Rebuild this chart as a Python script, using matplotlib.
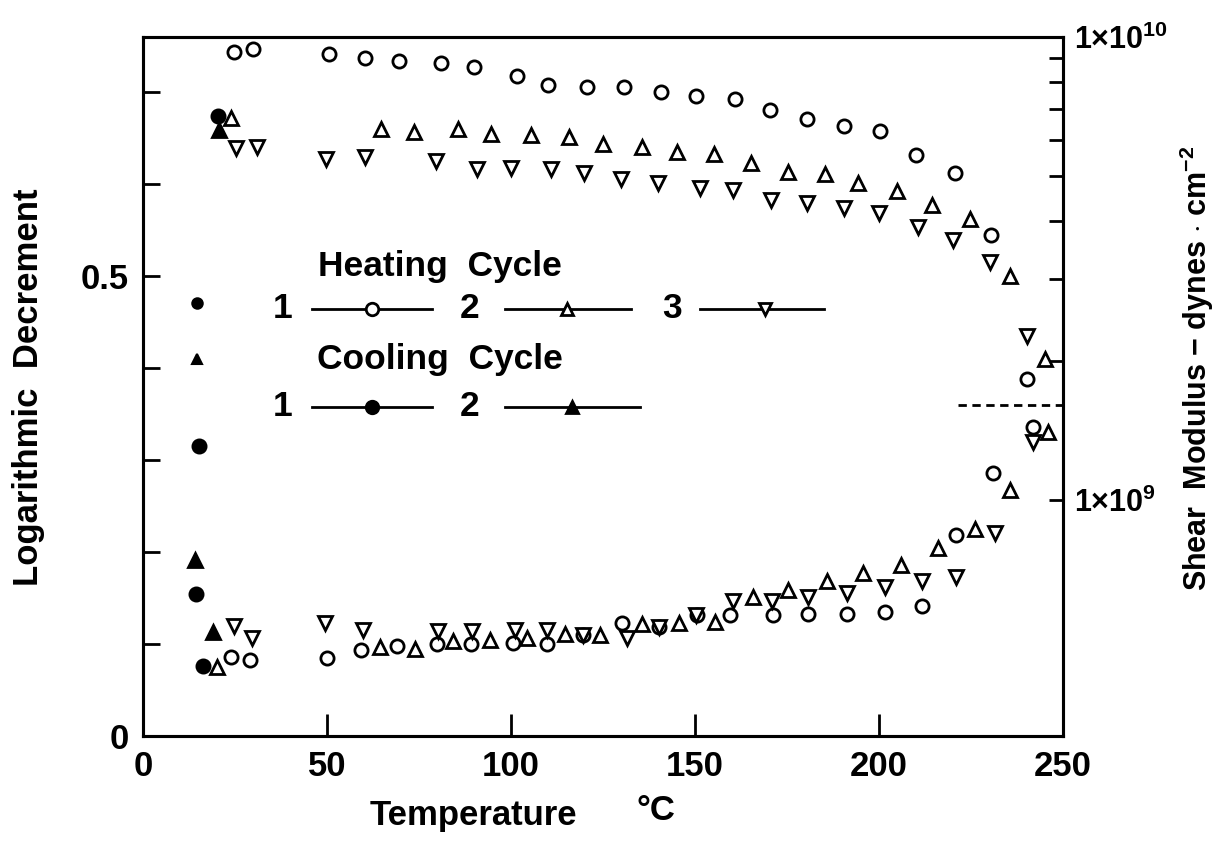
import matplotlib
matplotlib.use('Agg')
import matplotlib.pyplot as plt
from matplotlib.ticker import FixedLocator, NullFormatter

plt.rcParams['font.family'] = ['Liberation Sans', 'DejaVu Sans']
plt.rcParams['font.weight'] = 'bold'
plt.rcParams['axes.labelweight'] = 'bold'
plt.rcParams['mathtext.fontset'] = 'custom'
plt.rcParams['mathtext.rm'] = 'Liberation Sans:bold'
plt.rcParams['mathtext.it'] = 'Liberation Sans:bold'

# shear modulus (1e9 dynes/cm2), heating cycles
t_mod_h1 = [24.7, 30, 50.5, 60.3, 69.6, 81, 90, 101.6, 110, 120.7, 130.7, 140.8, 150.3,
            160.9, 170.4, 180.4, 190.5, 200.3, 210, 220.7, 230.4, 240.2]
mod_h1 = [9.27, 9.40, 9.19, 9.01, 8.89, 8.77, 8.60, 8.24, 7.88, 7.81, 7.81, 7.62, 7.46,
          7.34, 6.96, 6.64, 6.42, 6.27, 5.56, 5.09, 3.74, 1.83]
t_mod_h2 = [23.8, 64.7, 73.6, 85.6, 94.6, 105.4, 115.8, 125, 135.6, 145, 155.2, 165.2,
            175.3, 185.3, 194.3, 204.9, 214.4, 224.7, 235.6, 245.1]
mod_h2 = [6.68, 6.33, 6.24, 6.32, 6.16, 6.14, 6.07, 5.87, 5.78, 5.65, 5.59, 5.35,
          5.12, 5.06, 4.85, 4.66, 4.34, 4.04, 3.04, 2.02]
t_mod_h3 = [25.3, 31, 49.7, 60.3, 79.6, 90.8, 100, 111, 119.8, 129.9, 139.9, 151.4,
            160.3, 170.6, 180.4, 190.5, 200, 210.6, 220.1, 230.2, 240.2]
mod_h3 = [5.75, 5.79, 5.44, 5.51, 5.40, 5.19, 5.20, 5.19, 5.09, 4.93, 4.83, 4.73,
          4.67, 4.45, 4.39, 4.27, 4.16, 3.89, 3.64, 3.27, 2.26]
# shear modulus, cooling cycles
t_mod_c1 = [20.5]
mod_c1 = [6.76]
t_mod_c2 = [20.7]
mod_c2 = [6.30]

# logarithmic decrement, heating cycles
t_dec_h1 = [24, 29.2, 49.9, 59.2, 69, 79.9, 89.1, 100.5, 109.8, 119.6, 130.2, 140.2,
            150.5, 159.5, 171.2, 180.7, 191.3, 201.6, 211.7, 220.9, 231, 241.8]
dec_h1 = [0.086, 0.083, 0.085, 0.094, 0.098, 0.100, 0.100, 0.101, 0.100, 0.110, 0.123, 0.118,
          0.132, 0.132, 0.132, 0.133, 0.133, 0.135, 0.141, 0.219, 0.286, 0.336]
t_dec_h2 = [20.2, 64.4, 73.9, 84.2, 94.3, 104.3, 114.7, 124.2, 135.5, 145.7, 155.4, 165.7,
            175.2, 186, 195.7, 206.1, 216, 226, 235.6, 246]
dec_h2 = [0.075, 0.097, 0.095, 0.103, 0.104, 0.107, 0.111, 0.110, 0.122, 0.123, 0.124, 0.151,
          0.159, 0.168, 0.177, 0.186, 0.204, 0.225, 0.267, 0.330]
t_dec_h3 = [24.8, 29.5, 49.5, 59.9, 80.2, 89.3, 101, 109.7, 119.5, 131.4, 140.3, 150.4,
            160.2, 171, 180.8, 191.2, 201.6, 211.6, 221, 231.5, 241.8]
dec_h3 = [0.120, 0.107, 0.123, 0.115, 0.114, 0.114, 0.115, 0.115, 0.110, 0.107, 0.118, 0.132,
          0.147, 0.147, 0.151, 0.155, 0.162, 0.168, 0.173, 0.221, 0.320]
# logarithmic decrement, cooling cycles (first point of each is faintly printed)
t_dec_c1 = [14.6, 15.2, 14.4, 16.2]
dec_c1 = [0.471, 0.315, 0.154, 0.076]
t_dec_c2 = [14.6, 14.1, 18.9]
dec_c2 = [0.410, 0.191, 0.113]

tg_level = 0.36
tg_range = (221.5, 250)

fig = plt.figure(figsize=(12.22, 8.5), dpi=100)
ax = fig.add_axes([143 / 1222, 114 / 850, 920 / 1222, 699 / 850])
ax2 = ax.twinx()

mk = dict(linestyle='none', markersize=9.5, markeredgewidth=2.0, color='black')
ax2.plot(t_mod_h1, [v * 1e9 for v in mod_h1], marker='o', markerfacecolor='white', **mk)
ax2.plot(t_mod_h2, [v * 1e9 for v in mod_h2], marker='^', markerfacecolor='white', **mk)
ax2.plot(t_mod_h3, [v * 1e9 for v in mod_h3], marker='v', markerfacecolor='white', **mk)
ax2.plot(t_mod_c1, [v * 1e9 for v in mod_c1], marker='o', markerfacecolor='black', **mk)
ax2.plot(t_mod_c2, [v * 1e9 for v in mod_c2], marker='^', markerfacecolor='black', **mk)

ax.plot(t_dec_h1, dec_h1, marker='o', markerfacecolor='white', **mk)
ax.plot(t_dec_h2, dec_h2, marker='^', markerfacecolor='white', **mk)
ax.plot(t_dec_h3, dec_h3, marker='v', markerfacecolor='white', **mk)
ax.plot(t_dec_c1[1:], dec_c1[1:], marker='o', markerfacecolor='black', **mk)
ax.plot(t_dec_c2[1:], dec_c2[1:], marker='^', markerfacecolor='black', **mk)
ax.plot(t_dec_c1[:1], dec_c1[:1], marker='o', markersize=7.5, markeredgewidth=1.5,
        color='black', linestyle='none')
ax.plot(t_dec_c2[:1], dec_c2[:1], marker='^', markersize=6.5, markeredgewidth=1.5,
        color='black', linestyle='none')

ax.hlines(tg_level, tg_range[0], tg_range[1], colors='black', linestyles=(0, (3, 2)), linewidth=2)

ax.set_xlim(0, 250)
ax.set_ylim(0, 0.76)
ax2.set_yscale('log')
ax2.set_ylim(3.093e8, 1e10)

for s in ['left', 'right', 'top', 'bottom']:
    ax.spines[s].set_linewidth(2.2)
    ax2.spines[s].set_linewidth(2.2)

ax.set_xticks([0, 50, 100, 150, 200, 250])
ax.set_xticklabels(['0', '50', '100', '150', '200', '250'])
ax.set_yticks([0, 0.1, 0.2, 0.3, 0.4, 0.5, 0.6, 0.7])
ax.set_yticklabels(['0', '', '', '', '', '0.5', '', ''])
ax.tick_params(axis='x', direction='in', length=16, width=2, labelsize=25, pad=10)
ax.tick_params(axis='y', direction='in', length=12, width=2, labelsize=25, pad=10)

ax2.yaxis.set_major_locator(FixedLocator([1e9, 1e10]))
ax2.yaxis.set_minor_locator(FixedLocator([2e9, 3e9, 4e9, 5e9, 6e9, 7e9, 8e9, 9e9]))
ax2.yaxis.set_minor_formatter(NullFormatter())
ax2.set_yticklabels([r'1$\times$10$^{9}$', r'1$\times$10$^{10}$'])
ax2.tick_params(axis='y', which='both', direction='in', length=10, width=2, labelsize=22, pad=8)

ax.set_ylabel('Logarithmic  Decrement', fontsize=25)
ax.yaxis.set_label_coords(-0.107, 0.499)
ax2.set_ylabel(r'Shear  Modulus $-$ dynes $\cdot$ cm$^{-2}$', fontsize=22)
ax2.yaxis.set_label_coords(1.125, 0.526)
fig.text(473 / 1222, 1 - 815 / 850, 'Temperature', fontsize=25, ha='center', va='center')
fig.text(656 / 1222, 1 - 810 / 850, '°C', fontsize=25, ha='center', va='center')

# legend block
tr = ax.transAxes
ax.text(0.19, 0.672, 'Heating  Cycle', transform=tr, fontsize=25.5, va='center')
ax.text(0.189, 0.538, 'Cooling  Cycle', transform=tr, fontsize=25.5, va='center')
rows = [
    (0.611, [('1', 0.152, 0.184, 0.314, 0.249, 'o', 'white'),
             ('2', 0.355, 0.393, 0.530, 0.461, '^', 'white'),
             ('3', 0.575, 0.605, 0.740, 0.676, 'v', 'white')]),
    (0.471, [('1', 0.152, 0.184, 0.314, 0.249, 'o', 'black'),
             ('2', 0.355, 0.393, 0.540, 0.466, '^', 'black')]),
]
for y, items in rows:
    for lab, xl, x0, x1, xm, m, fc in items:
        ax.text(xl, y, lab, transform=tr, fontsize=25.5, ha='center', va='center')
        ax.plot([x0, x1], [y, y], transform=tr, color='black', linewidth=2)
        ax.plot([xm], [y], transform=tr, marker=m, markersize=9, markeredgewidth=2,
                color='black', markerfacecolor=fc)

fig.savefig('out.png', dpi=100)
